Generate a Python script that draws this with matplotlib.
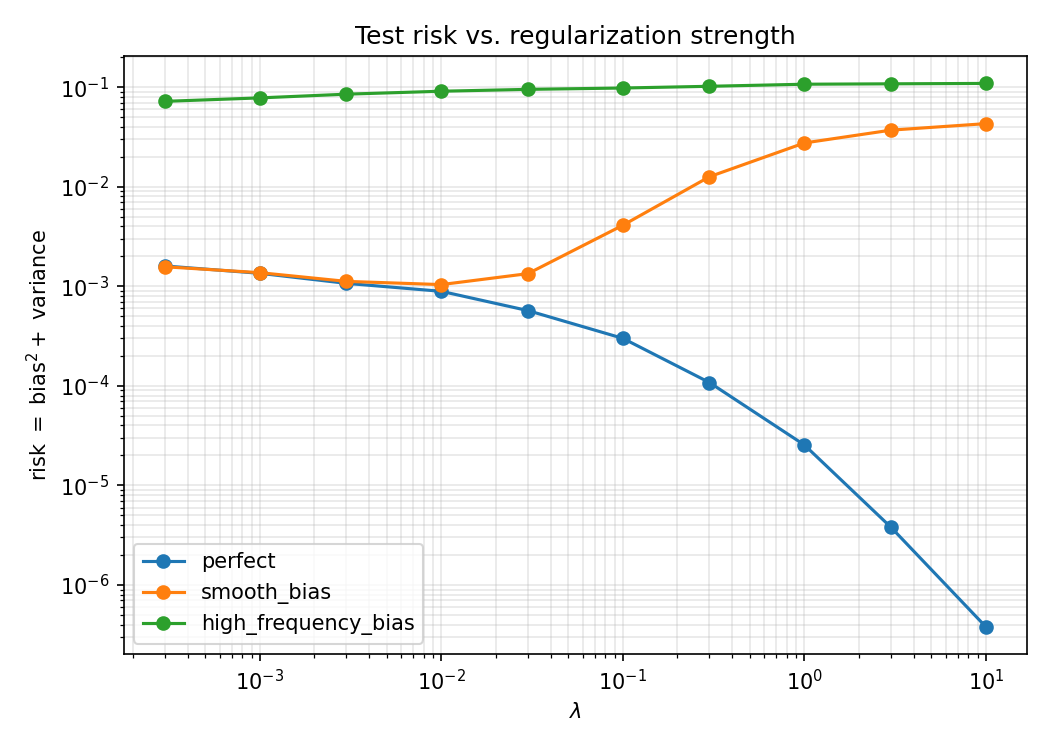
import matplotlib
matplotlib.use("Agg")
import matplotlib.pyplot as plt

lambdas = [3e-4, 1e-3, 3e-3, 1e-2, 3e-2, 1e-1, 3e-1, 1, 3, 10]

perfect = [1.6e-3, 1.35e-3, 1.07e-3, 8.9e-4, 5.7e-4, 3.0e-4, 1.08e-4, 2.55e-5, 3.8e-6, 3.8e-7]
smooth_bias = [1.57e-3, 1.37e-3, 1.12e-3, 1.04e-3, 1.34e-3, 4.1e-3, 1.26e-2, 2.75e-2, 3.7e-2, 4.3e-2]
high_frequency_bias = [0.072, 0.078, 0.085, 0.091, 0.095, 0.098, 0.102, 0.107, 0.108, 0.109]

fig, ax = plt.subplots(figsize=(7, 5), dpi=150)

ax.plot(lambdas, perfect, marker='o', label='perfect')
ax.plot(lambdas, smooth_bias, marker='o', label='smooth_bias')
ax.plot(lambdas, high_frequency_bias, marker='o', label='high_frequency_bias')

ax.set_xscale('log')
ax.set_yscale('log')
ax.set_xlabel(r'$\lambda$')
ax.set_ylabel(r'risk $=$ bias$^2 +$ variance')
ax.set_title('Test risk vs. regularization strength')
ax.grid(True, which='both', alpha=0.3)
ax.legend(loc='lower left')

fig.subplots_adjust(left=0.118, right=0.978, top=0.925, bottom=0.128)
fig.savefig('out.png')
